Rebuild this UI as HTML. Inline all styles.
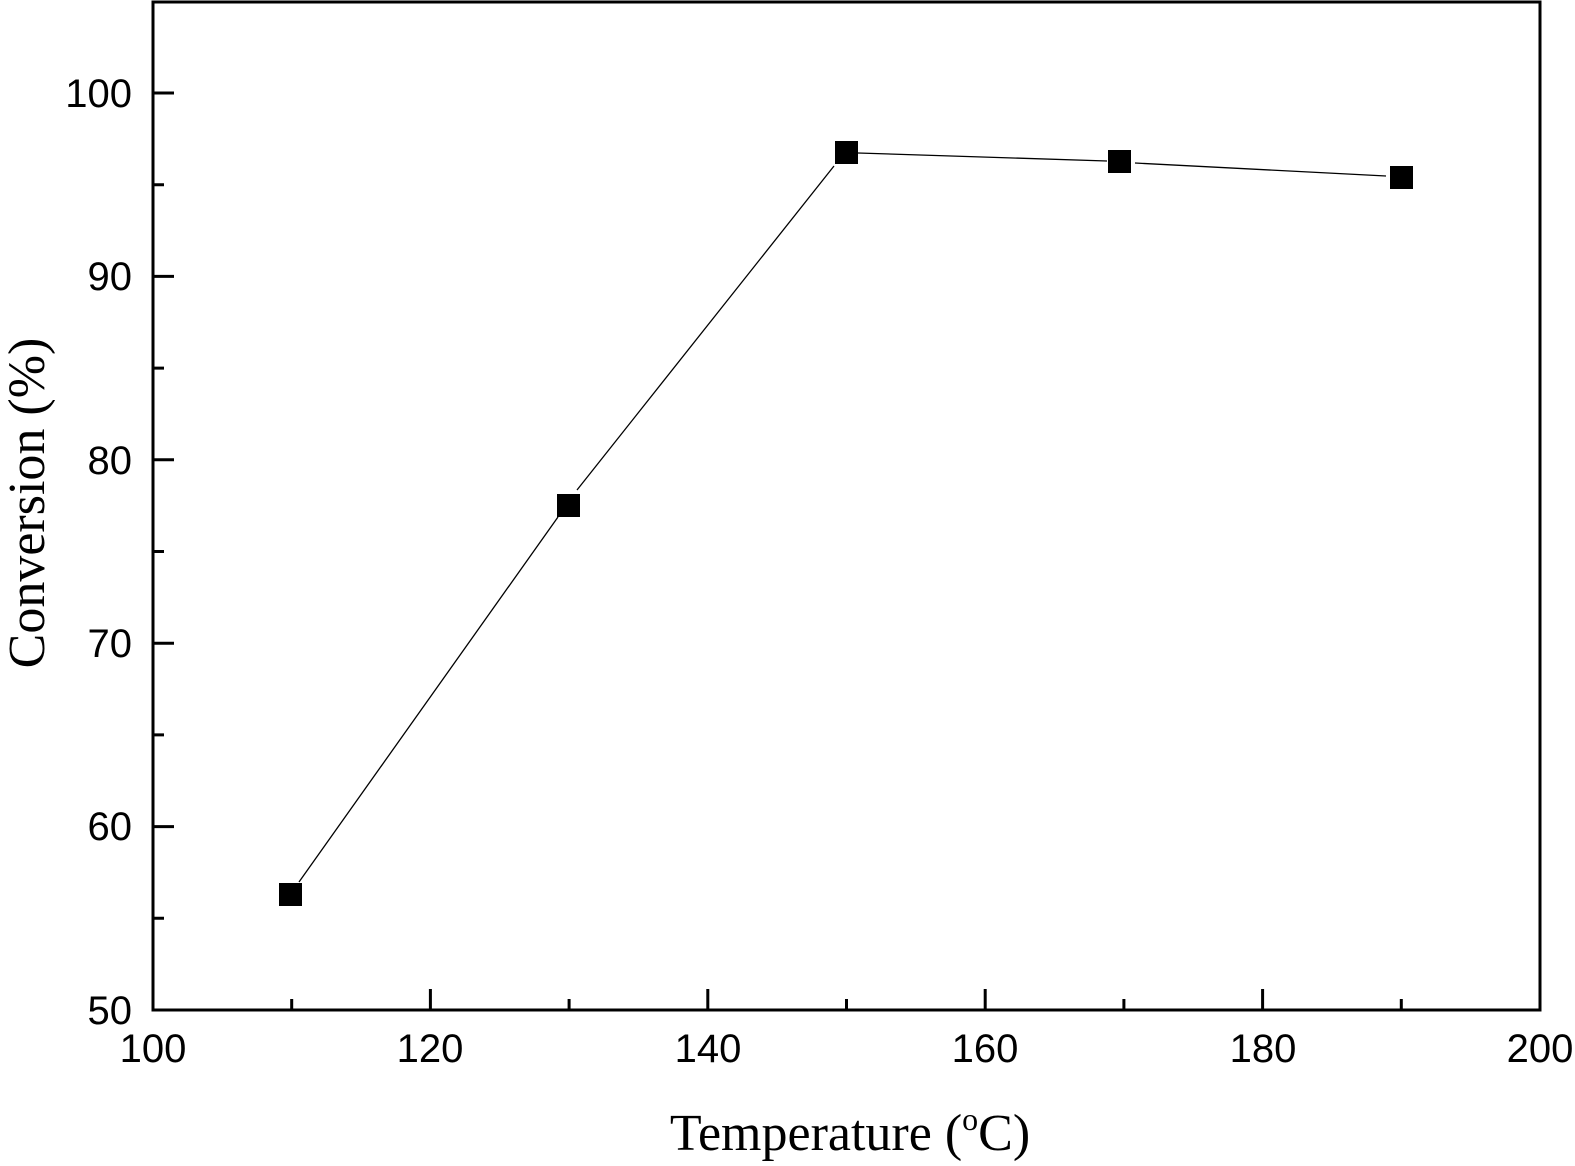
<!DOCTYPE html>
<html><head><meta charset="utf-8"><style>html,body{margin:0;padding:0;background:#fff}svg{display:block}</style></head><body>
<svg width="1575" height="1166" viewBox="0 0 1575 1166" xmlns="http://www.w3.org/2000/svg">
<rect width="1575" height="1166" fill="#fff"/>
<g stroke="#000" stroke-width="3" fill="none">
<rect x="153" y="2" width="1387" height="1008"/>
<!-- x ticks -->
<path d="M291.7 1010v-11M430.4 1010v-21M569.1 1010v-11M707.8 1010v-21M846.5 1010v-11M985.2 1010v-21M1123.9 1010v-11M1262.6 1010v-21M1401.3 1010v-11"/>
<!-- y ticks -->
<path d="M153 93h21M153 184.7h11M153 276.4h21M153 368.1h11M153 459.8h21M153 551.5h11M153 643.2h21M153 734.9h11M153 826.6h21M153 918.3h11"/>
</g>
<g stroke="#000" stroke-width="1.3" fill="none">
<line x1="299" y1="882" x2="558" y2="517"/>
<line x1="577" y1="490" x2="834" y2="166"/>
<line x1="858" y1="153" x2="1107" y2="161"/>
<line x1="1135" y1="163" x2="1386" y2="176"/>
</g>
<g fill="#000">
<rect x="279" y="883" width="23" height="23"/>
<rect x="557" y="494" width="23" height="23"/>
<rect x="835" y="141" width="23" height="23"/>
<rect x="1108" y="150" width="23" height="23"/>
<rect x="1390" y="166" width="23" height="23"/>
</g>
<g font-family="Liberation Sans, Arial, sans-serif" font-size="40" fill="#000">
<g text-anchor="end">
<text x="132" y="107">100</text>
<text x="132" y="290">90</text>
<text x="132" y="474">80</text>
<text x="132" y="657">70</text>
<text x="132" y="840">60</text>
<text x="132" y="1024">50</text>
</g>
<g text-anchor="middle">
<text x="153" y="1062">100</text>
<text x="430" y="1062">120</text>
<text x="708" y="1062">140</text>
<text x="985" y="1062">160</text>
<text x="1263" y="1062">180</text>
<text x="1540" y="1062">200</text>
</g>
</g>
<text x="850" y="1150" text-anchor="middle" font-family="Liberation Serif, Times New Roman, serif" font-size="52" fill="#000">Temperature (<tspan font-size="32" dy="-20">o</tspan><tspan dy="20">C)</tspan></text>
<text transform="translate(44,503) rotate(-90)" text-anchor="middle" font-family="Liberation Serif, Times New Roman, serif" font-size="52" fill="#000">Conversion (%)</text>
</svg>
</body></html>
